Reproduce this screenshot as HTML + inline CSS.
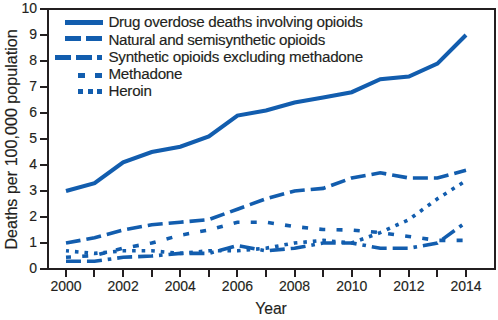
<!DOCTYPE html>
<html><head><meta charset="utf-8"><style>
html,body{margin:0;padding:0;background:#fff;width:498px;height:320px;overflow:hidden}
svg{display:block}
text{font-family:"Liberation Sans",sans-serif;fill:#231f20;stroke:#231f20;stroke-width:0.15px}
.t{font-size:14px}
.ti{font-size:16.13px}
.yr{font-size:15.7px}
.lg{font-size:15.2px}
</style></head><body>
<svg width="498" height="320" viewBox="0 0 498 320">
<path d="M40,9 H495 V269 H40" fill="none" stroke="#231f20" stroke-width="2"/>
<path d="M48,8 V270" fill="none" stroke="#231f20" stroke-width="2"/>
<path d="M40,269 H48" stroke="#231f20" stroke-width="2"/>
<path d="M40,243 H48" stroke="#231f20" stroke-width="2"/>
<path d="M40,217 H48" stroke="#231f20" stroke-width="2"/>
<path d="M40,191 H48" stroke="#231f20" stroke-width="2"/>
<path d="M40,165 H48" stroke="#231f20" stroke-width="2"/>
<path d="M40,139 H48" stroke="#231f20" stroke-width="2"/>
<path d="M40,113 H48" stroke="#231f20" stroke-width="2"/>
<path d="M40,87 H48" stroke="#231f20" stroke-width="2"/>
<path d="M40,61 H48" stroke="#231f20" stroke-width="2"/>
<path d="M40,35 H48" stroke="#231f20" stroke-width="2"/>
<path d="M66,269 V277" stroke="#231f20" stroke-width="2"/>
<path d="M94,269 V277" stroke="#231f20" stroke-width="2"/>
<path d="M123,269 V277" stroke="#231f20" stroke-width="2"/>
<path d="M152,269 V277" stroke="#231f20" stroke-width="2"/>
<path d="M180,269 V277" stroke="#231f20" stroke-width="2"/>
<path d="M209,269 V277" stroke="#231f20" stroke-width="2"/>
<path d="M237,269 V277" stroke="#231f20" stroke-width="2"/>
<path d="M266,269 V277" stroke="#231f20" stroke-width="2"/>
<path d="M295,269 V277" stroke="#231f20" stroke-width="2"/>
<path d="M323,269 V277" stroke="#231f20" stroke-width="2"/>
<path d="M352,269 V277" stroke="#231f20" stroke-width="2"/>
<path d="M380,269 V277" stroke="#231f20" stroke-width="2"/>
<path d="M409,269 V277" stroke="#231f20" stroke-width="2"/>
<path d="M437,269 V277" stroke="#231f20" stroke-width="2"/>
<path d="M466,269 V277" stroke="#231f20" stroke-width="2"/>
<text x="37" y="272.6" text-anchor="end" class="t">0</text>
<text x="37" y="246.6" text-anchor="end" class="t">1</text>
<text x="37" y="220.6" text-anchor="end" class="t">2</text>
<text x="37" y="194.6" text-anchor="end" class="t">3</text>
<text x="37" y="168.6" text-anchor="end" class="t">4</text>
<text x="37" y="142.6" text-anchor="end" class="t">5</text>
<text x="37" y="116.6" text-anchor="end" class="t">6</text>
<text x="37" y="90.6" text-anchor="end" class="t">7</text>
<text x="37" y="64.6" text-anchor="end" class="t">8</text>
<text x="37" y="38.6" text-anchor="end" class="t">9</text>
<text x="37" y="12.6" text-anchor="end" class="t">10</text>
<text x="66.00" y="291" text-anchor="middle" class="t">2000</text>
<text x="123.14" y="291" text-anchor="middle" class="t">2002</text>
<text x="180.29" y="291" text-anchor="middle" class="t">2004</text>
<text x="237.43" y="291" text-anchor="middle" class="t">2006</text>
<text x="294.57" y="291" text-anchor="middle" class="t">2008</text>
<text x="351.71" y="291" text-anchor="middle" class="t">2010</text>
<text x="408.86" y="291" text-anchor="middle" class="t">2012</text>
<text x="466.00" y="291" text-anchor="middle" class="t">2014</text>
<text x="271" y="314" text-anchor="middle" class="yr">Year</text>
<text transform="translate(17.2,139.45) rotate(-90)" text-anchor="middle" class="ti">Deaths per 100,000 population</text>
<polyline points="66.00,261.20 94.57,261.20 123.14,257.30 151.71,256.00 180.29,253.40 208.86,253.40 237.43,245.60 266.00,250.80 294.57,248.20 323.14,243.00 351.71,243.00 380.29,248.20 408.86,248.20 437.43,243.00 466.00,222.20" fill="none" stroke="#125dae" stroke-width="3.6" stroke-linejoin="miter" stroke-dasharray="15 6 15 5.9 3.6 5.95" stroke-dashoffset="0.05"/>
<polyline points="66.00,257.30 94.57,255.48 123.14,248.20 151.71,243.00 180.29,235.20 208.86,230.00 237.43,222.20 266.00,222.20 294.57,226.62 323.14,229.48 351.71,230.00 380.29,232.60 408.86,236.50 437.43,240.40 466.00,240.40" fill="none" stroke="#125dae" stroke-width="3.6" stroke-linejoin="miter" stroke-dasharray="6 11.25" stroke-dashoffset="1"/>
<polyline points="66.00,250.80 94.57,253.40 123.14,250.80 151.71,250.80 180.29,253.40 208.86,250.80 237.43,250.80 266.00,248.20 294.57,243.00 323.14,240.40 351.71,243.00 380.29,232.60 408.86,219.60 437.43,198.80 466.00,180.60" fill="none" stroke="#125dae" stroke-width="3.6" stroke-linejoin="miter" stroke-dasharray="3.6 5.96" stroke-dashoffset="0.6"/>
<polyline points="66.00,243.00 94.57,237.80 123.14,230.00 151.71,224.80 180.29,222.20 208.86,219.60 237.43,209.20 266.00,198.80 294.57,191.00 323.14,188.40 351.71,178.00 380.29,172.80 408.86,178.00 437.43,178.00 466.00,170.20" fill="none" stroke="#125dae" stroke-width="3.6" stroke-linejoin="miter" stroke-dasharray="15 6" stroke-dashoffset="0.3"/>
<polyline points="66.00,191.00 94.57,183.20 123.14,162.40 151.71,152.00 180.29,146.80 208.86,136.40 237.43,115.60 266.00,110.40 294.57,102.60 323.14,97.40 351.71,92.20 380.29,79.20 408.86,76.60 437.43,63.60 466.00,35.00" fill="none" stroke="#125dae" stroke-width="4.1" stroke-linejoin="miter"/>
<rect x="65" y="20" width="38" height="5" fill="#125dae"/>
<text x="108.4" y="26.9" class="lg" textLength="254.5" lengthAdjust="spacing">Drug overdose deaths involving opioids</text>
<rect x="65" y="36" width="16" height="5" fill="#125dae"/>
<rect x="86" y="36" width="16" height="5" fill="#125dae"/>
<text x="108.4" y="44.6" class="lg" textLength="216.9" lengthAdjust="spacing">Natural and semisynthetic opioids</text>
<rect x="55" y="55" width="16" height="5" fill="#125dae"/>
<rect x="76" y="55" width="16" height="5" fill="#125dae"/>
<rect x="97" y="55" width="5" height="5" fill="#125dae"/>
<text x="108.4" y="61.5" class="lg" textLength="254.8" lengthAdjust="spacing">Synthetic opioids excluding methadone</text>
<rect x="78" y="73" width="7" height="5" fill="#125dae"/>
<rect x="95" y="73" width="7" height="5" fill="#125dae"/>
<text x="108.4" y="78.9" class="lg" textLength="74.1" lengthAdjust="spacing">Methadone</text>
<rect x="78" y="89" width="5" height="5" fill="#125dae"/>
<rect x="88" y="89" width="5" height="5" fill="#125dae"/>
<rect x="97" y="89" width="5" height="5" fill="#125dae"/>
<text x="108.4" y="95.8" class="lg" textLength="43.55" lengthAdjust="spacing">Heroin</text>
</svg>
</body></html>
